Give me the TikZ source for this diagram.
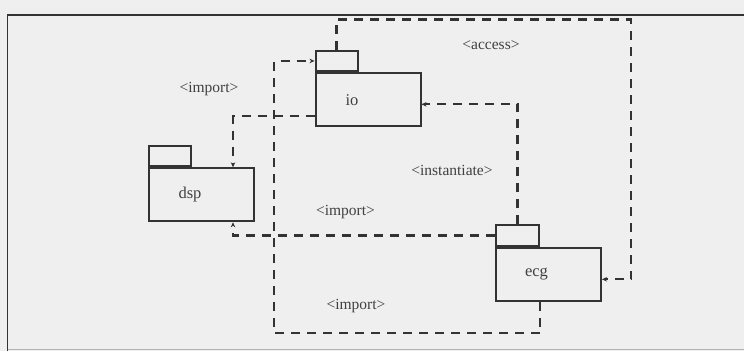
\documentclass[tikz,border=0pt]{standalone}
\usepackage{fontspec}
\setmainfont{Liberation Serif}
\usepackage{xcolor}
\usetikzlibrary{arrows.meta, positioning}
\definecolor{paper}{HTML}{EFEFEF}
\definecolor{ink}{HTML}{333333}
\definecolor{labelink}{HTML}{404040}

\begin{document}
\begin{tikzpicture}[
  x=1pt, y=-1pt,
  pkg/.style={draw=ink, line width=2pt, minimum width=105pt, minimum height=53pt,
    inner sep=0pt},
  tab/.style={draw=ink, line width=2pt, minimum width=42pt, minimum height=20.5pt,
    inner sep=0pt, anchor=south west},
  pkgname/.style={xshift=-16pt, font=\fontsize{16.5}{18}\selectfont, text=labelink},
  dep/.style={draw=ink, line width=2.2pt, dash pattern=on 9pt off 7pt,
    -{Stealth[length=5pt, width=4.5pt]}},
  stereo/.style={font=\fontsize{15.5}{17}\selectfont, text=labelink, inner sep=1pt}
]
% paper and frame
\fill[paper] (0,0) rectangle (744,351);
\useasboundingbox (0,0) rectangle (744,351);
\draw[ink, line width=1.6pt] (7.5,351) -- (7.5,15) -- (744,15);
\draw[gray!60, line width=0.8pt] (7.5,349.5) -- (744,349.5);

% packages
\node[pkg, label={[pkgname]center:io}] (io) at (368,99.7) {};
\node[tab] (io tab) at (io.north west) {};
\node[pkg, label={[pkgname, xshift=5pt]center:dsp}] (dsp) at (201,194.8) {};
\node[tab] (dsp tab) at (dsp.north west) {};
\node[pkg, label={[pkgname, xshift=4pt]center:ecg}] (ecg) at (548.5,274.3) {};
\node[tab, minimum width=43pt] (ecg tab) at (ecg.north west) {};

% bends
\coordinate (access corner) at (631,19.5);
\coordinate (import corner) at (274.3,333.3);

% dependencies
\draw[dep] (io tab.north) |- (access corner) |- ([yshift=-5pt]ecg.east);
\draw[dep] (ecg tab.north) |- ([yshift=-4.6pt]io.east);
\draw[dep] (ecg tab.east |- ecg.south) |- (import corner) |- (io tab.west);
\draw[dep] ([yshift=-16.3pt]io.west) -| ([xshift=32pt]dsp.north);
\draw[dep] (ecg tab.west) -| ([xshift=32pt]dsp.south);

% stereotypes
\node[stereo] (access) at (491,45) {<access>};
\node[stereo] (instantiate) at (452,170.5) {<instantiate>};
\node[stereo] (import io) at (209,89.5) {<import>};
\node[stereo] (import dsp) at (345.5,212.5) {<import>};
\node[stereo] (import ecg) at (356,306) {<import>};
\end{tikzpicture}
\end{document}
